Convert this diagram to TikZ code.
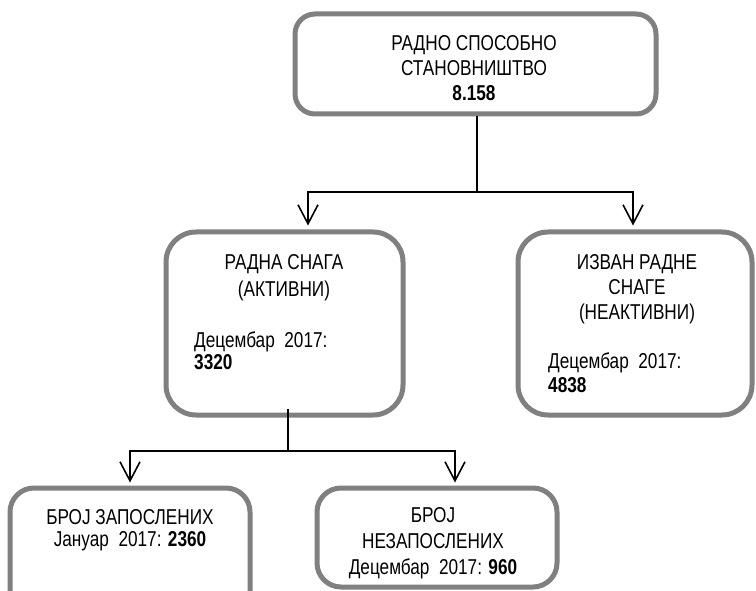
\documentclass[tikz,border=0pt]{standalone}
\usepackage{fontspec}
\setmainfont[FakeStretch=0.8]{Liberation Sans}
\usepackage{xcolor}
\usepackage{tikz}
\usetikzlibrary{arrows.meta,positioning}
\tikzset{>={Straight Barb[length=19pt,width=20pt]}}
\definecolor{boxgray}{RGB}{128,128,128}

\begin{document}
\begin{tikzpicture}[x=1pt,y=-1pt,
                    box/.style={draw=boxgray, line width=5pt, rounded corners=24pt, inner sep=0pt},
                    caption/.style={font=\fontsize{21.5}{25}\selectfont, inner sep=0pt, align=center},
                    figure/.style={font=\fontsize{21.5}{22}\selectfont, inner sep=0pt, align=left},
                    link/.style={line width=1.6pt, black},
                   ]

\clip (0,0) rectangle (756,591);

% boxes
\node[box, minimum width=361pt, minimum height=100pt, rounded corners=20pt] (pop) at (475.5,64) {};
\node[box, minimum width=237pt, minimum height=183pt, rounded corners=30pt] (labour) at (284.5,323.5) {};
\node[box, minimum width=234pt, minimum height=183pt, rounded corners=30pt] (inactive) at (635,323.5) {};
\node[box, minimum width=240pt, minimum height=130pt] (employed) at (130,553) {};
\node[box, minimum width=240pt, minimum height=99pt] (unemployed) at (437,537.5) {};

% texts
\node[caption, anchor=north] (popt) at (474,35.5) {РАДНО СПОСОБНО\\СТАНОВНИШТВО\\\textbf{8.158}};
\node[caption, anchor=north, font=\fontsize{21.5}{27}\selectfont] (labourt) at (284,254.5) {РАДНА СНАГА\\(АКТИВНИ)};
\node[figure, anchor=north west] (labourn) at (194,332) {Децембар\ \ 2017:\\\textbf{3320}};
\node[caption, anchor=north] (inactivet) at (637,254.5) {ИЗВАН РАДНЕ\\СНАГЕ\\(НЕАКТИВНИ)};
\node[figure, anchor=north west, font=\fontsize{21.5}{24}\selectfont] (inactiven) at (548,353) {Децембар\ \ 2017:\\\textbf{4838}};
\node[caption, anchor=north, font=\fontsize{21.5}{22}\selectfont] (employedt) at (130,509.5) {БРОЈ ЗАПОСЛЕНИХ\\Јануар\ \ 2017: \textbf{2360}};
\node[caption, anchor=north, font=\fontsize{21.5}{26}\selectfont] (unemployedt) at (433,507.5) {БРОЈ\\НЕЗАПОСЛЕНИХ\\Децембар\ \ 2017: \textbf{960}};

% connectors
\coordinate (fork1) at (477,192);
\coordinate (fork2) at (288,451);

\draw[link] ([xshift=1.5pt]pop.south) -- (fork1);
\draw[link,->] (fork1) -| ([xshift=23.5pt,yshift=4pt]labour.north);
\draw[link,->] (fork1) -| ([xshift=-2pt,yshift=4pt]inactive.north);

\draw[link] ([xshift=3.5pt,yshift=9pt]labour.south) -- (fork2);
\draw[link,->] (fork2) -| ([yshift=3pt]employed.north);
\draw[link,->] (fork2) -| ([xshift=18pt,yshift=3pt]unemployed.north);

\end{tikzpicture}
\end{document}
